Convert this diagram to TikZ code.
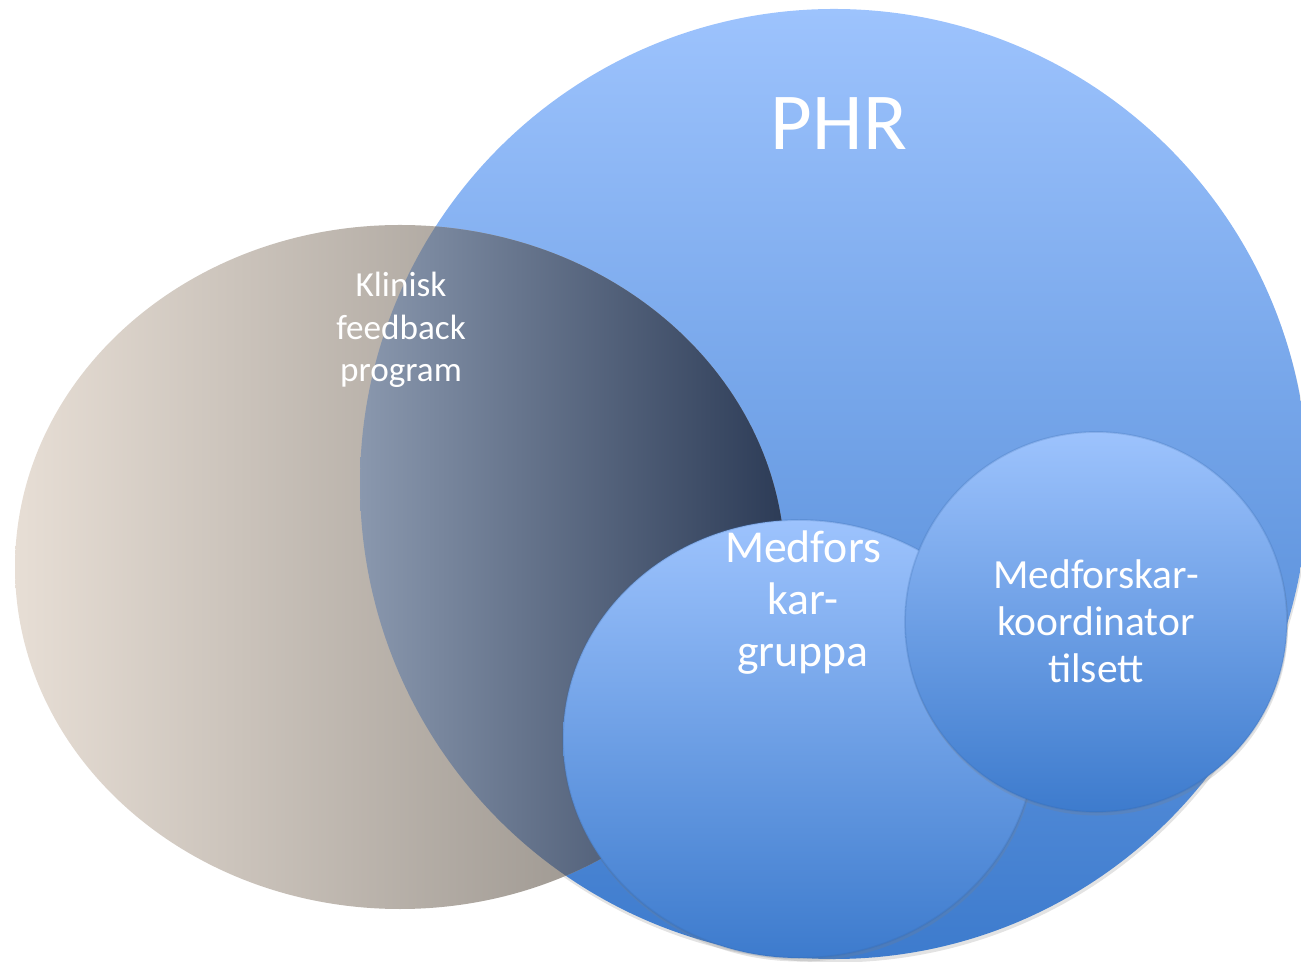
\documentclass[tikz,border=0pt]{standalone}
\usepackage{fontspec}
\setmainfont{Carlito}
\usetikzlibrary{shadows}
\definecolor{blueTop}{RGB}{157,195,253}
\definecolor{blueBot}{RGB}{61,123,205}
\definecolor{beigeL}{RGB}{231,222,213}
\definecolor{beigeR}{RGB}{134,129,123}
\definecolor{mixL}{RGB}{214,227,245}
\definecolor{mixR}{RGB}{44,59,86}
\tikzset{
  bubble/.style={top color=blueTop,bottom color=blueBot},
  softshadow/.style={drop shadow={shadow xshift=0.3pt,shadow yshift=-1pt,opacity=0.22}},
  label/.style={text=white,align=center,inner sep=0pt}
}

\begin{document}
\begin{tikzpicture}[line cap=round,line join=round,x=0.01cm,y=-0.01cm]
\useasboundingbox (0,0) rectangle (1301,962);
% big circle
\shade[bubble,softshadow] (834,484) ellipse (474 and 475);
% left ellipse and the part inside the big circle
\shade[left color=beigeL,right color=beigeR] (400,567) ellipse (385 and 342);
\begin{scope}
\clip (834,484) ellipse (474 and 475);
\shade[left color=mixL,right color=mixR] (400,567) ellipse (385 and 342);
\end{scope}
% small circles
\shade[bubble,softshadow] (799,739) ellipse (236 and 219);
\draw[blueBot!80!black,opacity=0.2,line width=0.5pt] (799,739) ellipse (236 and 219);
\shade[bubble,softshadow] (1096,622) ellipse (191 and 190);
\draw[blueBot!80!black,opacity=0.2,line width=0.5pt] (1096,622) ellipse (191 and 190);
% texts
\node[label,font=\fontsize{23}{27}\selectfont] (phr) at (839,124) {PHR};
\node[label,font=\fontsize{10}{12}\selectfont] (klinisk) at (401,330) {Klinisk\\feedback\\program};
\node[label,font=\fontsize{13}{14.8}\selectfont] (medfors) at (803,603) {Medfors\\kar-\\gruppa};
\node[label,font=\fontsize{11.8}{13.4}\selectfont] (koord) at (1096,621) {Medforskar-\\koordinator\\tilsett};
\end{tikzpicture}
\end{document}
